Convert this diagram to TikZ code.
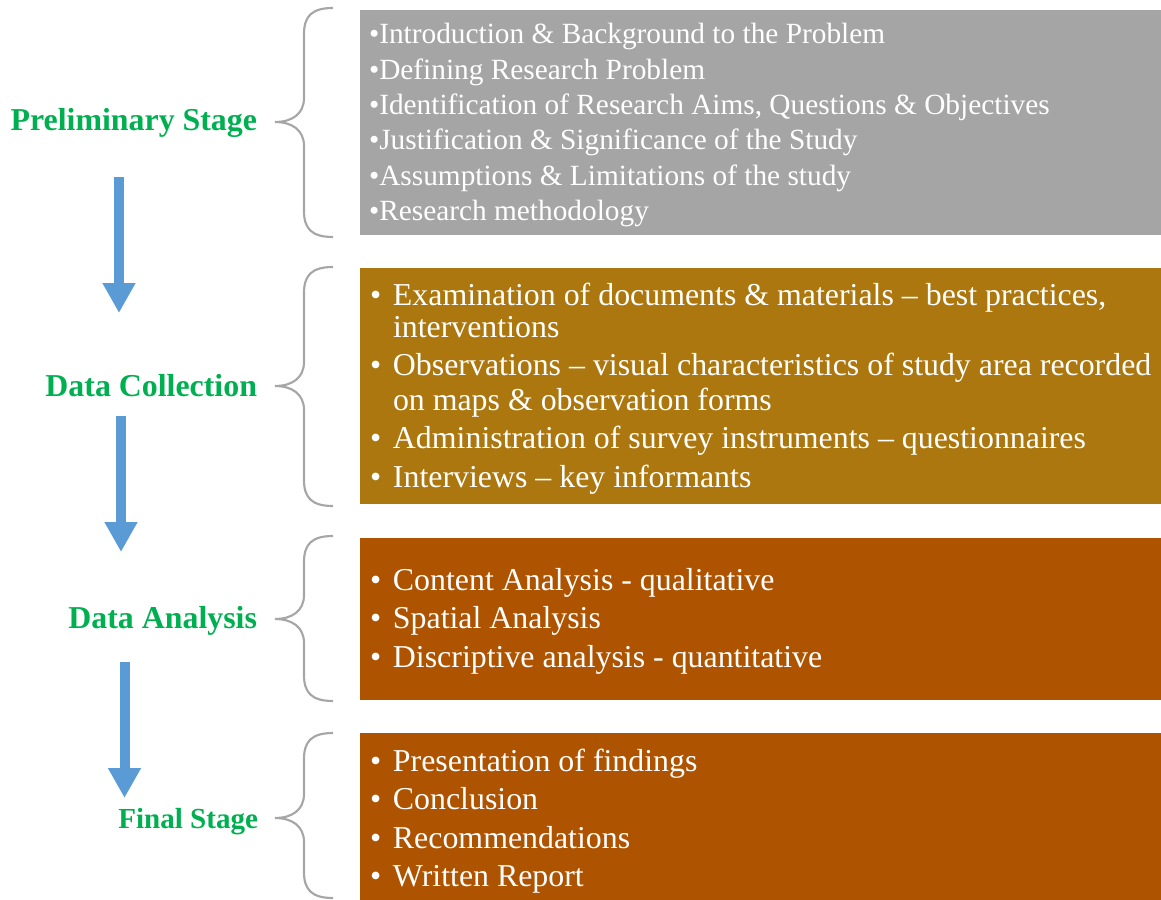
\documentclass[tikz,border=0pt]{standalone}
\usepackage{fontspec}
\setmainfont{Liberation Serif}
\usetikzlibrary{arrows.meta}

\definecolor{boxgray}{HTML}{A5A5A5}
\definecolor{boxgold}{HTML}{AB770E}
\definecolor{boxrust}{HTML}{AE5300}
\definecolor{stagegreen}{HTML}{00B050}
\definecolor{flowblue}{HTML}{5B9BD5}
\definecolor{bracegray}{HTML}{A6A6A6}

\tikzset{
  item/.style={anchor=base west, inner sep=0pt, outer sep=0pt, text=white,
    font=\fontsize{23.9}{28}\selectfont},
  smallitem/.style={item, font=\fontsize{22}{26}\selectfont},
  stage/.style={anchor=base east, inner sep=0pt, outer sep=0pt, text=stagegreen,
    font=\bfseries\fontsize{23.9}{28}\selectfont},
  flow/.style={draw=flowblue, line width=7.5pt,
    -{Triangle[width=23.25pt,length=22.5pt]}},
  bracket/.style={draw=bracegray, line width=1.6pt},
}

% curly brace: top end, tip height, bottom end
\newcommand\stagebrace[3]{%
  \draw[bracket] (333,#1) .. controls (312,#1) and (304,#1+8) .. (304,#1+26)
    -- (304,#2-24) .. controls (304,#2-8) and (292,#2) .. (275,#2)
    .. controls (292,#2) and (304,#2+8) .. (304,#2+24)
    -- (304,#3-26) .. controls (304,#3-8) and (312,#3) .. (333,#3);}

% bullet with tab, for the lower panels
\newcommand\tb{\makebox[17.25pt][l]{•}}
\newcommand\ti{\hspace*{17.25pt}}

\begin{document}
\begin{tikzpicture}[x=0.75pt, y=-0.75pt]
  \useasboundingbox (0,0) rectangle (1161,900);

  % panels
  \fill[boxgray] (360,10) rectangle (1161,235);
  \fill[boxgold] (360,268) rectangle (1161,504);
  \fill[boxrust] (360,538) rectangle (1161,700);
  \fill[boxrust] (360,733) rectangle (1161,900);

  % braces
  \stagebrace{8}{122}{237}
  \stagebrace{267}{386}{506}
  \stagebrace{536}{619}{701}
  \stagebrace{733}{818}{898}

  % stage names
  \node[stage] (s1) at (257,130) {Preliminary Stage};
  \node[stage] (s2) at (257,396) {Data Collection};
  \node[stage] (s3) at (257,628) {Data Analysis};
  \node[stage, font=\bfseries\fontsize{21.8}{26}\selectfont] (s4) at (258,828) {Final Stage};

  % flow arrows
  \coordinate (a1s) at (119,177); \coordinate (a1e) at (119,313);
  \coordinate (a2s) at (121,416); \coordinate (a2e) at (121,552);
  \coordinate (a3s) at (124.5,662); \coordinate (a3e) at (124.5,798);
  \draw[flow] (a1s) -- (a1e);
  \draw[flow] (a2s) -- (a2e);
  \draw[flow] (a3s) -- (a3e);

  % preliminary stage items
  \node[smallitem] (p1) at (369,43) {•Introduction \& Background to the Problem};
  \node[smallitem] (p2) at (369,79) {•Defining Research Problem};
  \node[smallitem] (p3) at (369,114) {•Identification of Research Aims, Questions \& Objectives};
  \node[smallitem] (p4) at (369,149) {•Justification \& Significance of the Study};
  \node[smallitem] (p5) at (369,185) {•Assumptions \& Limitations of the study};
  \node[smallitem] (p6) at (369,220) {•Research methodology};

  % data collection items
  \node[item] (c1) at (370,305) {\tb Examination of documents \& materials – best practices,};
  \node[item] (c1b) at (370,337) {\ti interventions};
  \node[item] (c2) at (370,375) {\tb Observations – visual characteristics of study area recorded};
  \node[item] (c2b) at (370,410) {\ti on maps \& observation forms};
  \node[item] (c3) at (370,448) {\tb Administration of survey instruments – questionnaires};
  \node[item] (c4) at (370,487) {\tb Interviews – key informants};

  % data analysis items
  \node[item] (d1) at (370,590) {\tb Content Analysis - qualitative};
  \node[item] (d2) at (370,628.5) {\tb Spatial Analysis};
  \node[item] (d3) at (370,667) {\tb Discriptive analysis - quantitative};

  % final stage items
  \node[item] (f1) at (370,771) {\tb Presentation of findings};
  \node[item] (f2) at (370,809.5) {\tb Conclusion};
  \node[item] (f3) at (370,848) {\tb Recommendations};
  \node[item] (f4) at (370,886.5) {\tb Written Report};
\end{tikzpicture}
\end{document}
